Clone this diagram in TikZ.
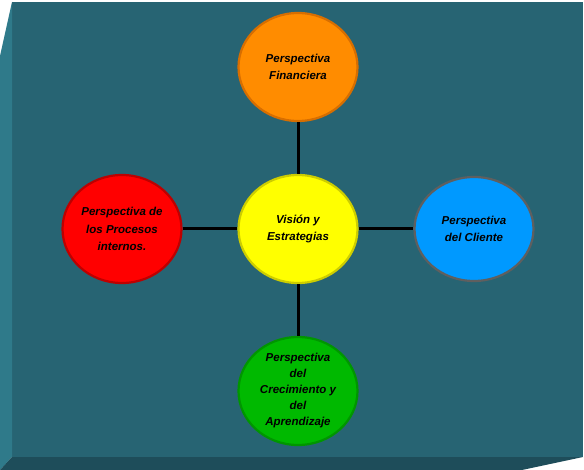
\documentclass[tikz,border=0pt]{standalone}
\usepackage{fontspec}
\setmainfont{Liberation Sans}
\usepackage{tikz}
\usetikzlibrary{shapes.geometric}

\definecolor{face}{RGB}{39,100,115}
\definecolor{sidelight}{RGB}{47,122,138}
\definecolor{sidedark}{RGB}{30,77,90}
\definecolor{visfill}{RGB}{255,255,0}
\definecolor{visline}{RGB}{205,205,0}
\definecolor{finfill}{RGB}{255,140,0}
\definecolor{finline}{RGB}{215,110,0}
\definecolor{procfill}{RGB}{255,0,0}
\definecolor{procline}{RGB}{190,0,0}
\definecolor{clifill}{RGB}{0,153,255}
\definecolor{cliline}{RGB}{95,95,95}
\definecolor{aprfill}{RGB}{0,185,0}
\definecolor{aprline}{RGB}{0,150,0}

\tikzset{
  persp/.style={ellipse, minimum width=119pt, minimum height=108pt, line width=2.2pt,
    inner sep=0pt, align=center,
    font=\fontsize{11.5}{17.5}\selectfont\bfseries\itshape},
  link/.style={line width=3pt, black}
}

\begin{document}
\begin{tikzpicture}[x=1pt,y=-1pt]
\useasboundingbox (0,0) rectangle (584,470);
% box with bevelled edges
\fill[face] (12,2) -- (583,2) -- (583,457) -- (12,457) -- cycle;
\fill[sidelight] (0,56) -- (12,2) -- (12,457) -- (0,470) -- cycle;
\fill[sidedark] (0,470) -- (12,457) -- (583,457) -- (522,470) -- cycle;
% perspectives
\node[persp, draw=visline, fill=visfill] (vision) at (298,229) {Visión y\\Estrategias};
\node[persp, draw=finline, fill=finfill] (fin) at (298,67) {Perspectiva\\Financiera};
\node[persp, draw=procline, fill=procfill] (proc) at (122,229) {Perspectiva de\\los Procesos\\internos.};
\node[persp, draw=cliline, fill=clifill, minimum height=104pt] (cli) at (474,229) {Perspectiva\\del Cliente};
\node[persp, draw=aprline, fill=aprfill,
  font=\fontsize{11.5}{16}\selectfont\bfseries\itshape] (apr) at (298,391) {Perspectiva\\del\\Crecimiento y\\del\\Aprendizaje};
% links to the centre
\draw[link] (fin) -- (vision);
\draw[link] (vision) -- (apr);
\draw[link] (proc) -- (vision);
\draw[link] (vision) -- (cli);
\end{tikzpicture}
\end{document}
